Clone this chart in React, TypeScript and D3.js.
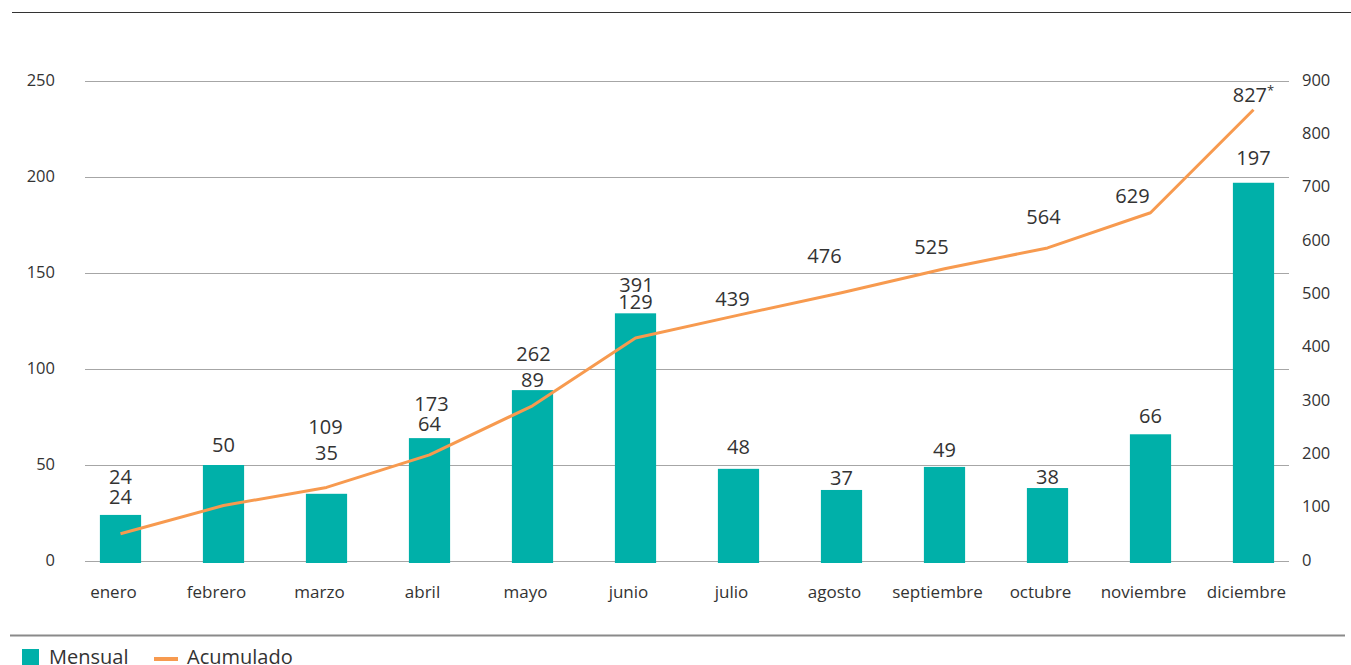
import * as d3 from 'd3';
import React, { useEffect, useRef } from 'react';

const meses = ['enero', 'febrero', 'marzo', 'abril', 'mayo', 'junio', 'julio', 'agosto', 'septiembre', 'octubre', 'noviembre', 'diciembre'];
const mensual = [24, 50, 35, 64, 89, 129, 48, 37, 49, 38, 66, 197];
// line as drawn in the picture
const acumulado = [51, 104, 138, 199, 291, 418, 461, 503, 548, 587, 653, 846];
const acumuladoLabels = ['24', '', '109', '173', '262', '391', '439', '476', '525', '564', '629', '827'];
const leftTicks = [0, 50, 100, 150, 200, 250];
const rightTicks = [0, 100, 200, 300, 400, 500, 600, 700, 800, 900];

// label placement tweaks (px)
const barLabelDy = [-18, -21, -41, -15, -11, -12, -22, -12, -17, -12, -19, -25];
const accLabelDy = [-57, 0, -61, -51, -52, -54, -17, -37, -22, -31, -17, -15];
const accLabelDx = [0, 0, -1, 2, 1, 1, -6, -17, -13, -4, -18, 0];

const W = 1351;
const H = 665;
const TEAL = '#00b0a9';
const ORANGE = '#f79a4f';
const TEXT = '#333';
const FONT = '"Open Sans", "Noto Sans", sans-serif';

const App: React.FC = () => {
  const ref = useRef<SVGSVGElement | null>(null);

  useEffect(() => {
    const svg = d3.select(ref.current);
    svg.selectAll('*').remove();

    const x = d3.scaleBand().domain(meses).range([69, 1305]).paddingInner(0.6).paddingOuter(0.3);
    const yL = d3.scaleLinear().domain([0, 250]).range([561, 81]);
    const yR = d3.scaleLinear().domain([0, 900]).range([561, 81]);
    const cx = (m: string) => (x(m) ?? 0) + x.bandwidth() / 2;

    // top rule + bottom rule
    svg.append('line').attr('x1', 12).attr('x2', W).attr('y1', 12.5).attr('y2', 12.5)
      .attr('stroke', '#333').attr('stroke-width', 1.2);
    svg.append('line').attr('x1', 10).attr('x2', 1345).attr('y1', 635.5).attr('y2', 635.5)
      .attr('stroke', '#8a8a8a').attr('stroke-width', 2);

    // grid
    svg.append('g').selectAll('line').data(leftTicks).enter().append('line')
      .attr('x1', 85).attr('x2', 1289)
      .attr('y1', d => Math.round(yL(d)) + 0.5).attr('y2', d => Math.round(yL(d)) + 0.5)
      .attr('stroke', '#a6a6a6').attr('stroke-width', 1);

    svg.append('g').selectAll('text').data(leftTicks).enter().append('text')
      .attr('x', 55).attr('y', d => yL(d) - 2)
      .attr('text-anchor', 'end').attr('dominant-baseline', 'central')
      .attr('font-size', 16.5).attr('fill', TEXT).attr('font-family', FONT)
      .text(d => d);

    svg.append('g').selectAll('text').data(rightTicks).enter().append('text')
      .attr('x', 1302).attr('y', d => yR(d) - 2)
      .attr('text-anchor', 'start').attr('dominant-baseline', 'central')
      .attr('font-size', 16.5).attr('fill', TEXT).attr('font-family', FONT)
      .text(d => d);

    // bars
    svg.append('g').selectAll('rect').data(mensual).enter().append('rect')
      .attr('x', (_, i) => x(meses[i]) ?? 0)
      .attr('y', d => yL(d))
      .attr('width', x.bandwidth())
      .attr('height', d => 563 - yL(d))
      .attr('fill', TEAL);

    // month labels
    svg.append('g').selectAll('text').data(meses).enter().append('text')
      .attr('x', d => cx(d) - 7).attr('y', 591)
      .attr('text-anchor', 'middle').attr('dominant-baseline', 'central')
      .attr('font-size', 17).attr('fill', TEXT).attr('font-family', FONT)
      .text(d => d);

    // line
    const line = d3.line<number>().x((_, i) => cx(meses[i])).y(d => yR(d));
    svg.append('path').datum(acumulado).attr('d', line)
      .attr('fill', 'none').attr('stroke', ORANGE).attr('stroke-width', 3).attr('stroke-linejoin', 'round');

    // bar value labels
    svg.append('g').selectAll('text').data(mensual).enter().append('text')
      .attr('x', (_, i) => cx(meses[i]))
      .attr('y', (d, i) => yL(d) + barLabelDy[i])
      .attr('text-anchor', 'middle').attr('dominant-baseline', 'central')
      .attr('font-size', 20).attr('fill', TEXT).attr('font-family', FONT)
      .text(d => d);

    // cumulative labels
    const acc = svg.append('g').selectAll('text').data(acumuladoLabels).enter().append('text')
      .attr('x', (_, i) => cx(meses[i]) + accLabelDx[i])
      .attr('y', (_, i) => yR(acumulado[i]) + accLabelDy[i])
      .attr('text-anchor', 'middle').attr('dominant-baseline', 'central')
      .attr('font-size', 20).attr('fill', TEXT).attr('font-family', FONT)
      .text(d => d);
    acc.filter((_, i) => i === meses.length - 1)
      .append('tspan').attr('font-size', 13).attr('dy', -5).text('*');

    // legend
    const lg = svg.append('g').attr('font-family', FONT).attr('font-size', 20).attr('fill', TEXT);
    lg.append('rect').attr('x', 22).attr('y', 649).attr('width', 17).attr('height', 17).attr('fill', TEAL);
    lg.append('text').attr('x', 49).attr('y', 664).text('Mensual');
    lg.append('line').attr('x1', 154).attr('x2', 178).attr('y1', 659).attr('y2', 659)
      .attr('stroke', ORANGE).attr('stroke-width', 4);
    lg.append('text').attr('x', 187).attr('y', 664).text('Acumulado');
  }, []);

  return (
    <div style={{ position: 'absolute', left: 0, top: 0 }}>
      <svg ref={ref} width={W} height={H} style={{ display: 'block' }} />
    </div>
  );
};

export default App;
